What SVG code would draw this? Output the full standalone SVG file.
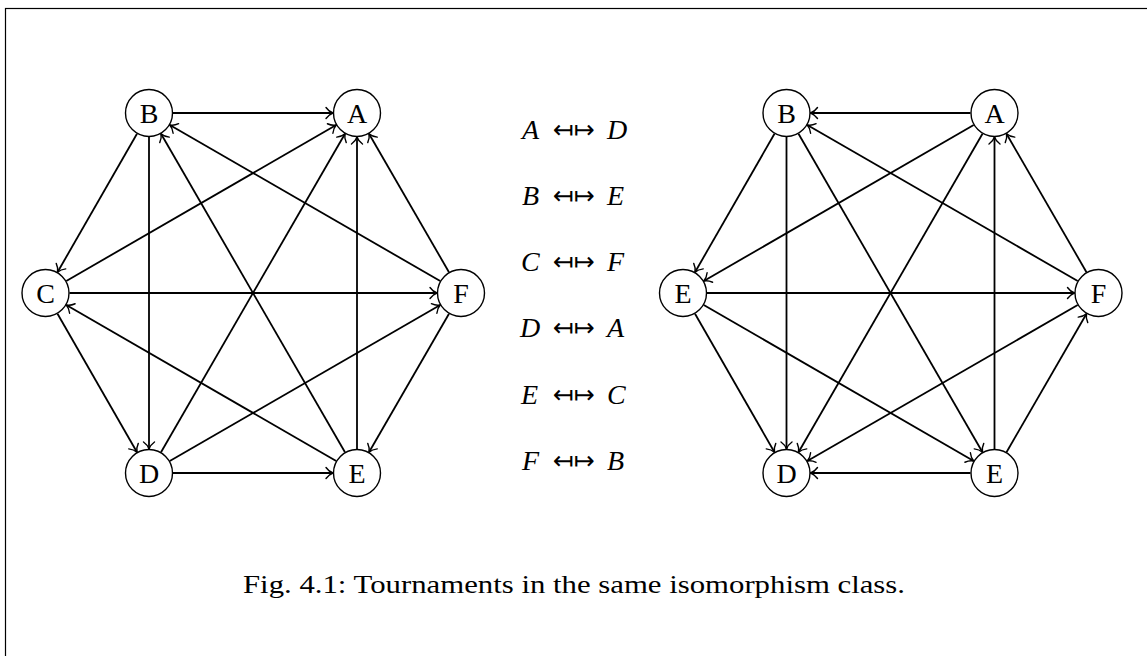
<svg xmlns="http://www.w3.org/2000/svg" width="1147" height="656" viewBox="0 0 1147 656">
<style>
.node circle{fill:#fff;stroke:#000;stroke-width:1.4}
.node text{font-family:"Liberation Serif","DejaVu Serif",serif;font-size:28px;text-anchor:middle;fill:#000}
.edges line{stroke:#000;stroke-width:1.8;marker-end:url(#tip)}
.m{font-family:"Liberation Serif","DejaVu Serif",serif;font-size:28px;font-style:italic;fill:#000}
.arr{font-family:"DejaVu Sans",sans-serif;font-size:25px;fill:#000}
.cap{font-family:"Liberation Serif","DejaVu Serif",serif;font-size:26px;fill:#000}
</style>
<defs>
<marker id="tip" markerUnits="userSpaceOnUse" markerWidth="16" markerHeight="16" viewBox="-9 -8 11 16" refX="0" refY="0" orient="auto">
<path d="M-7,-5.5 C-4.5,-2 -1.5,-0.5 0,0 C-1.5,0.5 -4.5,2 -7,5.5" fill="none" stroke="#000" stroke-width="1.4" stroke-linecap="round"/>
</marker>
</defs>
<rect x="5.5" y="8.5" width="1160" height="700" fill="none" stroke="#000" stroke-width="1.2"/>

<g id="left-graph">
<g class="edges" id="left-edges">
<line x1="173" y1="113" x2="333" y2="113"/>
<line x1="137" y1="133.8" x2="57.5" y2="272.2"/>
<line x1="149" y1="137" x2="149" y2="449"/>
<line x1="345" y1="452.2" x2="161" y2="133.8"/>
<line x1="440.2" y1="281" x2="169.8" y2="125"/>
<line x1="66.3" y1="281" x2="336.2" y2="125"/>
<line x1="161" y1="452.2" x2="345" y2="133.8"/>
<line x1="357" y1="449" x2="357" y2="137"/>
<line x1="449" y1="272.2" x2="369" y2="133.8"/>
<line x1="57.5" y1="313.8" x2="137" y2="452.2"/>
<line x1="69.5" y1="293" x2="437" y2="293"/>
<line x1="336.2" y1="461" x2="66.3" y2="305"/>
<line x1="173" y1="473" x2="333" y2="473"/>
<line x1="169.8" y1="461" x2="440.2" y2="305"/>
<line x1="449" y1="313.8" x2="369" y2="452.2"/>
</g>
<g class="node" id="L-A"><circle cx="357" cy="113" r="23.5"/><text x="357" y="123">A</text></g>
<g class="node" id="L-B"><circle cx="149" cy="113" r="23.5"/><text x="149" y="123">B</text></g>
<g class="node" id="L-C"><circle cx="45.5" cy="293" r="23.5"/><text x="45.5" y="303">C</text></g>
<g class="node" id="L-F"><circle cx="461" cy="293" r="23.5"/><text x="461" y="303">F</text></g>
<g class="node" id="L-D"><circle cx="149" cy="473" r="23.5"/><text x="149" y="483">D</text></g>
<g class="node" id="L-E"><circle cx="357" cy="473" r="23.5"/><text x="357" y="483">E</text></g>
</g>

<g id="mapping">
<text class="m" x="522" y="139">A</text><text class="arr" x="553" y="138">↤↦</text><text class="m" x="607" y="139">D</text>
<text class="m" x="522" y="205">B</text><text class="arr" x="553" y="204">↤↦</text><text class="m" x="607" y="205">E</text>
<text class="m" x="521" y="271">C</text><text class="arr" x="553" y="270">↤↦</text><text class="m" x="607" y="271">F</text>
<text class="m" x="520" y="337">D</text><text class="arr" x="553" y="336">↤↦</text><text class="m" x="607" y="337">A</text>
<text class="m" x="521" y="404">E</text><text class="arr" x="553" y="403">↤↦</text><text class="m" x="607" y="404">C</text>
<text class="m" x="522" y="470">F</text><text class="arr" x="553" y="469">↤↦</text><text class="m" x="607" y="470">B</text>
</g>

<g id="right-graph" transform="translate(637.5,0)">
<g class="edges" id="right-edges">
<line x1="333" y1="113" x2="173" y2="113"/>
<line x1="440.2" y1="281" x2="169.8" y2="125"/>
<line x1="137" y1="133.8" x2="57.5" y2="272.2"/>
<line x1="149" y1="137" x2="149" y2="449"/>
<line x1="161" y1="133.8" x2="345" y2="452.2"/>
<line x1="336.2" y1="125" x2="66.3" y2="281"/>
<line x1="345" y1="133.8" x2="161" y2="452.2"/>
<line x1="357" y1="449" x2="357" y2="137"/>
<line x1="449" y1="272.2" x2="369" y2="133.8"/>
<line x1="69.5" y1="293" x2="437" y2="293"/>
<line x1="57.5" y1="313.8" x2="137" y2="452.2"/>
<line x1="333" y1="473" x2="173" y2="473"/>
<line x1="369" y1="452.2" x2="449" y2="313.8"/>
<line x1="66.3" y1="305" x2="336.2" y2="461"/>
<line x1="440.2" y1="305" x2="169.8" y2="461"/>
</g>
<g class="node" id="R-A"><circle cx="357" cy="113" r="23.5"/><text x="357" y="123">A</text></g>
<g class="node" id="R-B"><circle cx="149" cy="113" r="23.5"/><text x="149" y="123">B</text></g>
<g class="node" id="R-E1"><circle cx="45.5" cy="293" r="23.5"/><text x="45.5" y="303">E</text></g>
<g class="node" id="R-F"><circle cx="461" cy="293" r="23.5"/><text x="461" y="303">F</text></g>
<g class="node" id="R-D"><circle cx="149" cy="473" r="23.5"/><text x="149" y="483">D</text></g>
<g class="node" id="R-E2"><circle cx="357" cy="473" r="23.5"/><text x="357" y="483">E</text></g>
</g>

<text class="cap" x="243" y="593" textLength="662" lengthAdjust="spacingAndGlyphs">Fig. 4.1: Tournaments in the same isomorphism class.</text>
</svg>
